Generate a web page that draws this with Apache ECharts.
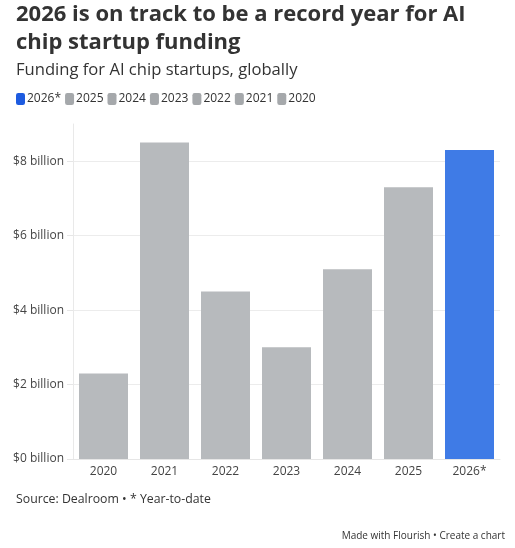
<!DOCTYPE html>
<html>
<head>
<meta charset="utf-8">
<script src="https://cdn.jsdelivr.net/npm/echarts@6/dist/echarts.min.js"></script>
<style>
html,body{margin:0;padding:0;background:#fff;}
#chart{width:515px;height:548px;}
</style>
</head>
<body>
<div id="chart"></div>
<script>
const years = ['2020','2021','2022','2023','2024','2025','2026*'];
const funding = [2.3, 8.5, 4.5, 3.0, 5.1, 7.3, 8.3]; // $ billion
const barColors = ['#b7babd','#b7babd','#b7babd','#b7babd','#b7babd','#b7babd','#3f7be6'];
const legendColors = ['#a5a8ab','#a5a8ab','#a5a8ab','#a5a8ab','#a5a8ab','#a5a8ab','#1d5be0'];
const yTicks = [0, 2, 4, 6, 8];

const FONT = '"Open Sans"';
const chart = echarts.init(document.getElementById('chart'), null, {renderer:'canvas'});

const series = years.map((y, i) => ({
  name: y,
  type: 'bar',
  stack: 'all',
  barWidth: 49,
  itemStyle: {color: barColors[i]},
  emphasis: {disabled: true},
  data: years.map((_, j) => j === i ? funding[i] : '-')
}));

const legendData = years.map((y, i) => ({name: y, itemStyle: {color: legendColors[i]}})).reverse();

chart.setOption({
  animation: false,
  textStyle: {fontFamily: FONT},
  title: [
    {text: '2026 is on track to be a record year for AI\nchip startup funding', left: 16, top: 1, padding: 0,
     textStyle: {fontFamily: FONT, fontSize: 22, fontWeight: 'bold', color: '#333', lineHeight: 28}},
    {text: 'Funding for AI chip startups, globally', left: 16, top: 62, padding: 0,
     textStyle: {fontFamily: FONT, fontSize: 16.6, fontWeight: 'normal', color: '#333'}},
    {text: 'Source: Dealroom • * Year-to-date', left: 16, top: 493, padding: 0,
     textStyle: {fontFamily: FONT, fontSize: 12.3, fontWeight: 'normal', color: '#333'}},
    {text: 'Made with Flourish • Create a chart', right: 10, top: 531, padding: 0,
     textStyle: {fontFamily: FONT, fontSize: 10, fontWeight: 'normal', color: '#333'}}
  ],
  legend: {
    left: 11, top: 88,
    icon: 'roundRect', itemWidth: 9, itemHeight: 12, itemGap: 4,
    selectedMode: false,
    textStyle: {fontFamily: FONT, fontSize: 12, color: '#333', padding: [0,0,0,-3]},
    data: legendData
  },
  grid: {left: 73, right: 15, top: 124, bottom: 89, containLabel: false},
  xAxis: {
    type: 'category', data: years,
    axisLine: {show: true, lineStyle: {color: '#e6e6e6'}},
    axisTick: {show: false},
    axisLabel: {fontFamily: FONT, fontSize: 12, color: '#444', margin: 7}
  },
  yAxis: {
    type: 'value', min: 0, max: 9, interval: 2,
    axisLine: {show: true, lineStyle: {color: '#e9e9e9'}},
    axisTick: {show: true, length: 6, lineStyle: {color: '#e6e6e6'}},
    splitLine: {show: true, showMaxLine: false, lineStyle: {color: '#ececec'}},
    axisLabel: {
      fontFamily: FONT, fontSize: 12, color: '#444', margin: 9, showMaxLabel: false,
      formatter: v => yTicks.includes(v) ? '$' + v + ' billion' : ''
    }
  },
  series: series
});
</script>
</body>
</html>
